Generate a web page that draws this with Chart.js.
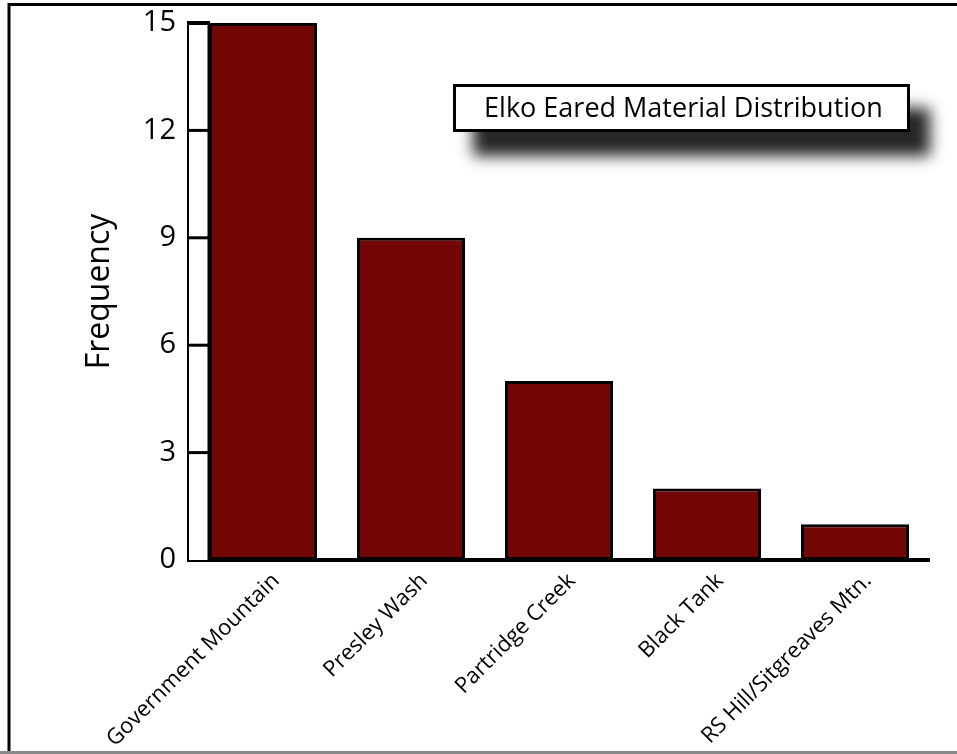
<!DOCTYPE html>
<html>
<head>
<meta charset="utf-8">
<title>Elko Eared Material Distribution</title>
<script src="https://cdn.jsdelivr.net/npm/chart.js@4/dist/chart.umd.min.js"></script>
<style>
  html, body { margin: 0; padding: 0; background: #ffffff; }
  #wrap { width: 957px; height: 754px; position: relative; }
  canvas { display: block; }
</style>
</head>
<body>
<div id="wrap"><canvas id="chart" width="957" height="754"></canvas></div>
<script>
// Source material counts for Elko Eared points
const sources = ['Government Mountain', 'Presley Wash', 'Partridge Creek', 'Black Tank', 'RS Hill/Sitgreaves Mtn.'];
const frequency = [15, 9, 5, 2, 1];
const yTicks = [0, 3, 6, 9, 12, 15];
const chartTitle = 'Elko Eared Material Distribution';
const yTitle = 'Frequency';

const FONT = '"Comic Sans MS", "Open Sans", "DejaVu Sans", sans-serif';
const BAR_RED = '#740606';

// Page frame: white background with the thin outer rule
const framePlugin = {
  id: 'frame',
  beforeDraw(chart) {
    const { ctx, width, height } = chart;
    ctx.save();
    ctx.fillStyle = '#ffffff';
    ctx.fillRect(0, 0, width, height);
    ctx.strokeStyle = '#000000';
    ctx.lineWidth = 3;
    ctx.beginPath();
    ctx.moveTo(9, height - 2);
    ctx.lineTo(9, 4.5);
    ctx.lineTo(width, 4.5);
    ctx.stroke();
    ctx.strokeStyle = '#8a8a8a';
    ctx.beginPath();
    ctx.moveTo(0, height - 1.5);
    ctx.lineTo(width, height - 1.5);
    ctx.stroke();
    ctx.restore();
  }
};

// Raised "wall" along the value axis, with a rule at every tick
const wallPlugin = {
  id: 'wall',
  beforeDatasetsDraw(chart) {
    const { ctx, chartArea, scales } = chart;
    const y = scales.y;
    const left = chartArea.left;
    const right = left + 20;
    const top = y.getPixelForValue(y.max);
    const bottom = y.getPixelForValue(y.min);
    ctx.save();
    ctx.fillStyle = '#ffffff';
    ctx.fillRect(left, top, right - left, bottom - top);
    ctx.strokeStyle = '#000000';
    ctx.lineWidth = 3;
    ctx.beginPath();
    ctx.moveTo(right, top);
    ctx.lineTo(right, bottom);
    ctx.stroke();
    ctx.lineWidth = 4;
    ctx.beginPath();
    ctx.moveTo(left - 2, top);
    ctx.lineTo(right + 1, top);
    ctx.stroke();
    ctx.lineWidth = 3;
    yTicks.forEach(v => {
      if (v === y.min || v === y.max) return;
      const py = y.getPixelForValue(v);
      ctx.beginPath();
      ctx.moveTo(left, py);
      ctx.lineTo(right, py);
      ctx.stroke();
    });
    ctx.restore();
  }
};

// Boxed chart title with a soft drop shadow
const titleBoxPlugin = {
  id: 'titleBox',
  afterDraw(chart) {
    const { ctx } = chart;
    const bx = 453, by = 84, bw = 457, bh = 48;
    ctx.save();
    ctx.shadowColor = 'rgba(0,0,0,0.85)';
    ctx.shadowBlur = 14;
    ctx.shadowOffsetX = 20;
    ctx.shadowOffsetY = 24;
    ctx.fillStyle = '#ffffff';
    ctx.fillRect(bx, by, bw, bh);
    ctx.restore();
    ctx.save();
    ctx.strokeStyle = '#000000';
    ctx.lineWidth = 3;
    ctx.strokeRect(bx + 1.5, by + 1.5, bw - 3, bh - 3);
    ctx.fillStyle = '#000000';
    ctx.font = '27px ' + FONT;
    ctx.textAlign = 'center';
    ctx.textBaseline = 'middle';
    ctx.fillText(chartTitle, bx + bw / 2 + 2, by + bh / 2 + 1);
    ctx.restore();
  }
};

new Chart(document.getElementById('chart'), {
  type: 'bar',
  data: {
    labels: sources,
    datasets: [{
      label: yTitle,
      data: frequency,
      backgroundColor: BAR_RED,
      borderColor: '#000000',
      borderWidth: 3,
      borderSkipped: false,
      barPercentage: 0.73,
      categoryPercentage: 1.0
    }]
  },
  options: {
    responsive: false,
    animation: false,
    events: [],
    layout: { padding: { left: 10, top: 23, right: 28, bottom: 0 } },
    plugins: {
      legend: { display: false },
      title: { display: false },
      tooltip: { enabled: false }
    },
    scales: {
      x: {
        grid: { display: false, drawTicks: false },
        border: { display: true, color: '#000000', width: 4 },
        ticks: {
          color: '#000000',
          font: { family: FONT, size: 22 },
          autoSkip: false,
          minRotation: 45,
          maxRotation: 45,
          padding: 8,
          labelOffset: 13
        },
        afterFit(scale) {
          scale.height = 194;
          scale.paddingLeft = 0;
          scale.paddingRight = 0;
        }
      },
      y: {
        min: 0,
        max: 15,
        grid: { display: false, drawTicks: false },
        border: { display: true, color: '#000000', width: 4 },
        ticks: {
          stepSize: 3,
          color: '#000000',
          font: { family: FONT, size: 29 },
          padding: 13
        },
        title: {
          display: true,
          text: yTitle,
          color: '#000000',
          font: { family: FONT, size: 32 },
          padding: { top: 71, bottom: 0 }
        },
        afterFit(scale) {
          scale.width = 179;
          scale.paddingTop = 0;
          scale.paddingBottom = 0;
        }
      }
    }
  },
  plugins: [framePlugin, wallPlugin, titleBoxPlugin]
});
</script>
</body>
</html>
